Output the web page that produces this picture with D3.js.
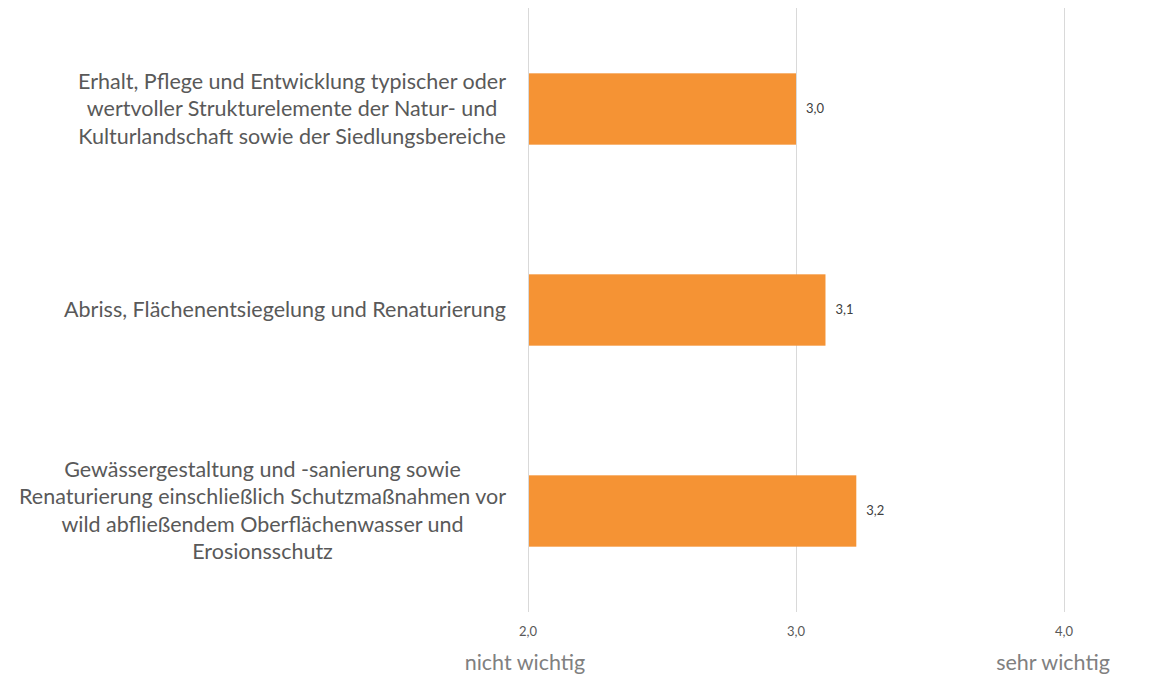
<!DOCTYPE html>
<html>
<head>
<meta charset="utf-8">
<script src="https://cdn.jsdelivr.net/npm/d3@7"></script>
<style>
  body { margin: 0; background: #fff; }
  svg text { font-family: Lato, "Open Sans", sans-serif; }
</style>
</head>
<body>
<div id="chart"></div>
<script>
// data
const categories = [
    ["Erhalt, Pflege und Entwicklung typischer oder", "wertvoller Strukturelemente der Natur- und", "Kulturlandschaft sowie der Siedlungsbereiche"],
    ["Abriss, Flächenentsiegelung und Renaturierung"],
    ["Gewässergestaltung und -sanierung sowie", "Renaturierung einschließlich Schutzmaßnahmen vor", "wild abfließendem Oberflächenwasser und", "Erosionsschutz"]
];
const values = [3.0, 3.11, 3.225];
const valueLabels = ["3,0", "3,1", "3,2"];
const ticks = [2, 3, 4];
const tickLabels = ["2,0", "3,0", "4,0"];
const endLabels = ["nicht wichtig", "sehr wichtig"];

const width = 1162, height = 675;

let svg = d3.select("#chart").append("svg")
    .attr("width", width)
    .attr("height", height);

let x = d3.scaleLinear().domain([2, 4]).range([528, 1064]);
let y = d3.scaleBand().domain(d3.range(categories.length))
    .range([8.5, 611.5])
    .paddingInner(0.645)
    .paddingOuter(0.3225);

// gridlines
svg.append("g").selectAll("line")
    .data(ticks)
    .enter().append("line")
    .attr("x1", d => x(d) + 0.5)
    .attr("x2", d => x(d) + 0.5)
    .attr("y1", 8)
    .attr("y2", 612)
    .attr("stroke", "#d9d9d9")
    .attr("stroke-width", 1);

// tick labels
svg.append("g").selectAll("text")
    .data(ticks)
    .enter().append("text")
    .attr("x", d => x(d))
    .attr("y", 636)
    .attr("text-anchor", "middle")
    .attr("font-size", 13)
    .attr("fill", "#595959")
    .text((d, i) => tickLabels[i]);

// "nicht wichtig" / "sehr wichtig"
svg.append("text")
    .attr("x", x(2) - 3)
    .attr("y", 670)
    .attr("text-anchor", "middle")
    .attr("font-size", 21.5)
    .attr("fill", "#808080")
    .text(endLabels[0]);
svg.append("text")
    .attr("x", x(4) - 11)
    .attr("y", 670)
    .attr("text-anchor", "middle")
    .attr("font-size", 21.5)
    .attr("fill", "#808080")
    .text(endLabels[1]);

// bars
svg.append("g").selectAll("rect")
    .data(values)
    .enter().append("rect")
    .attr("x", x(2) + 1)
    .attr("y", (d, i) => y(i))
    .attr("width", d => x(d) - x(2) - 1)
    .attr("height", y.bandwidth())
    .attr("fill", "#F59334");

// value labels
svg.append("g").selectAll("text")
    .data(values)
    .enter().append("text")
    .attr("x", d => x(d) + 10)
    .attr("y", (d, i) => y(i) + y.bandwidth() / 2 + 4)
    .attr("font-size", 13)
    .attr("fill", "#404040")
    .text((d, i) => valueLabels[i]);

// category labels, each block centred on its widest line, right edge at 506
const lineH = 27.5;
categories.forEach((lines, i) => {
    let g = svg.append("g");
    let cy = y(i) + y.bandwidth() / 2;
    let t = g.selectAll("text")
        .data(lines)
        .enter().append("text")
        .attr("y", (d, j) => cy + (j - (lines.length - 1) / 2) * lineH + 7)
        .attr("font-size", 21.5)
        .attr("fill", "#595959")
        .attr("text-anchor", "middle")
        .text(d => d);
    let maxW = d3.max(t.nodes(), n => n.getComputedTextLength());
    t.attr("x", 506 - maxW / 2);
});
</script>
</body>
</html>
